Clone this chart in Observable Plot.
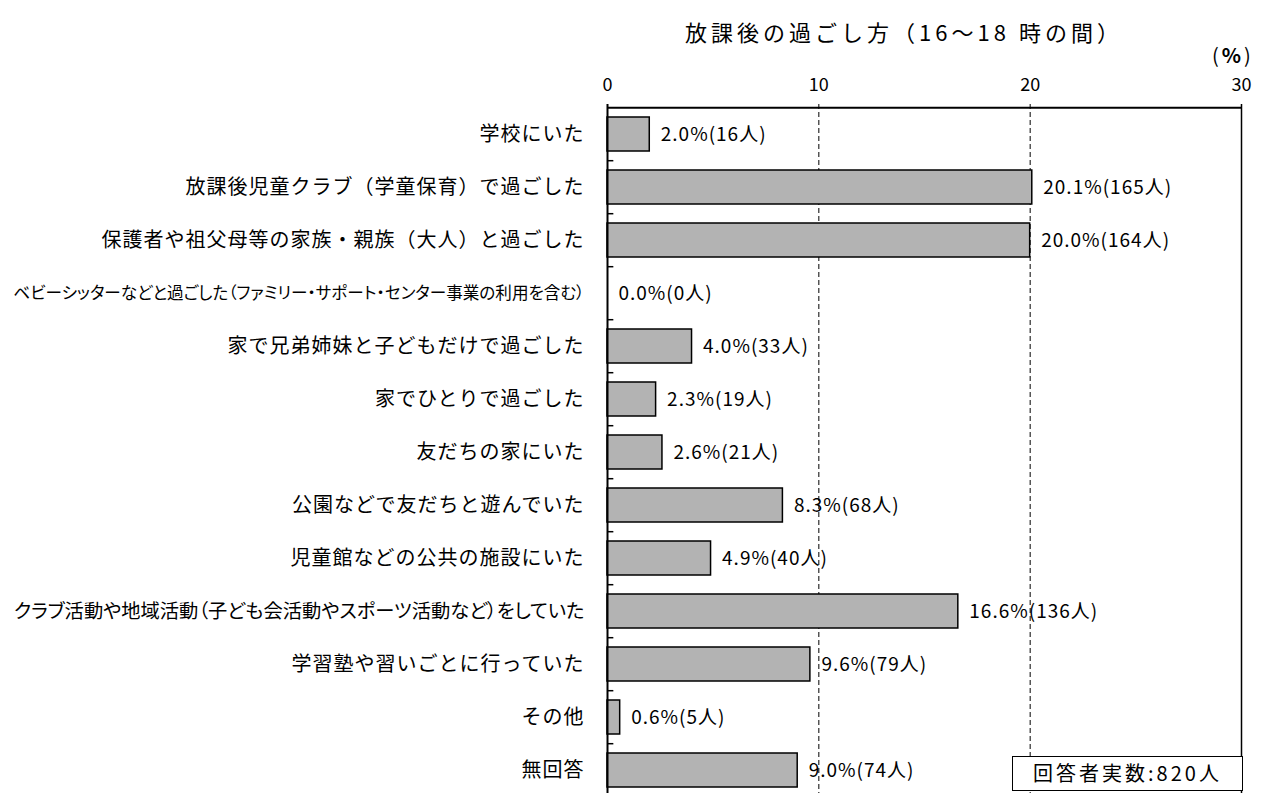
<!DOCTYPE html>
<html>
<head>
<meta charset="utf-8">
<script src="https://cdn.jsdelivr.net/npm/d3@7"></script>
<script src="https://cdn.jsdelivr.net/npm/@observablehq/plot@0.6"></script>
<style>
  body { margin: 0; background: #fff; font-family: "Noto Sans CJK JP", sans-serif; }
  #wrap { position: relative; width: 1269px; height: 793px; overflow: hidden; }
  #header { height: 60px; position: relative; }
  #title { position: absolute; left: 904px; top: 15px; transform: translateX(-50%); font-size: 22px; letter-spacing: 4px; white-space: nowrap; color: #000; }
  #unit { position: absolute; left: 1212px; top: 40px; font-size: 20px; letter-spacing: 3px; white-space: nowrap; color: #000; }
  #unit b { font-weight: 700; }
  #note { position: absolute; left: 1012px; top: 756px; width: 231px; height: 35px; box-sizing: border-box; border: 1.5px solid #000; background: #fff; font-size: 20px; line-height: 32px; text-align: center; letter-spacing: 3px; white-space: nowrap; color: #000; }
</style>
</head>
<body>
<div id="wrap">
  <div id="header"><div id="title">放課後の過ごし方（16〜18 時の間）</div></div>
  <div id="chart"></div>
  <div id="unit">(<b>%</b>)</div>
  <div id="note">回答者実数:820人</div>
</div>
<script>
const categories = [
  "学校にいた",
  "放課後児童クラブ（学童保育）で過ごした",
  "保護者や祖父母等の家族・親族（大人）と過ごした",
  "ベビーシッターなどと過ごした（ファミリー・サポート・センター事業の利用を含む）",
  "家で兄弟姉妹と子どもだけで過ごした",
  "家でひとりで過ごした",
  "友だちの家にいた",
  "公園などで友だちと遊んでいた",
  "児童館などの公共の施設にいた",
  "クラブ活動や地域活動（子ども会活動やスポーツ活動など）をしていた",
  "学習塾や習いごとに行っていた",
  "その他",
  "無回答"
];
const percents = [2.0, 20.1, 20.0, 0.0, 4.0, 2.3, 2.6, 8.3, 4.9, 16.6, 9.6, 0.6, 9.0];
const counts = [16, 165, 164, 0, 33, 19, 21, 68, 40, 136, 79, 5, 74];
const xTicks = [0, 10, 20, 30];

const data = categories.map((c, i) => ({cat: c, value: percents[i], n: counts[i]}));
const valueText = d => `${d.value.toFixed(1)}%(${d.n}人)`;

const W = 1269, H = 733;
const yTop = 43.7, yBottom = 740.5;
const step = (yBottom - yTop) / categories.length;

const plot = Plot.plot({
  width: W,
  height: H,
  marginLeft: 607,
  marginRight: 28,
  marginTop: 44,
  marginBottom: 0,
  style: {fontFamily: "'Noto Sans CJK JP', sans-serif", color: "#000", background: "#fff", overflow: "visible"},
  x: {domain: [0, 30], axis: null},
  y: {domain: categories, range: [yTop, yBottom], paddingInner: 0.35, paddingOuter: 0.175, axis: null},
  marks: [
    Plot.ruleX([10, 20], {stroke: "#000", strokeWidth: 1, strokeDasharray: "5,3"}),
    Plot.barX(data, {x: "value", y: "cat", fill: "#b3b3b3", stroke: "#000", strokeWidth: 1.5}),
    Plot.ruleX([0], {stroke: "#000", strokeWidth: 2}),
    Plot.ruleX([30], {stroke: "#000", strokeWidth: 1.5}),
    Plot.ruleY([categories[0]], {y: d => d, dy: -step / 2, stroke: "#000", strokeWidth: 2}),
    Plot.ruleY(categories.slice(1), {y: d => d, dy: -step / 2, x1: 0, x2: 0.3, stroke: "#000", strokeWidth: 1.5}),
    Plot.axisX({anchor: "top", ticks: xTicks, tickSize: 0, tickPadding: 14, fontSize: 18, tickFormat: d => String(d), label: null}),
    Plot.text(categories, {x: 0, y: d => d, text: d => d, textAnchor: "end", dx: -23, fontSize: 20, fill: "#000"}),
    Plot.text(data, {x: "value", y: "cat", text: valueText, textAnchor: "start", dx: 11, fontSize: 19, fill: "#000"})
  ]
});

document.getElementById("chart").appendChild(plot);

// letter spacing for labels; long category labels use proportional widths and shrink to fit
const maxLen = 573;
const catSet = new Set(categories);
const valSet = new Set(data.map(valueText));
d3.select(plot).selectAll("text").each(function() {
  const t = this.textContent;
  if (catSet.has(t)) {
    this.style.letterSpacing = "1px";
    const len = this.getComputedTextLength();
    if (len > maxLen) {
      this.style.letterSpacing = "0px";
      this.style.fontFeatureSettings = '"palt" 1';
      const base = this.getComputedTextLength();
      const fs = Math.min(20, Math.floor(20 * maxLen / base * 10) / 10);
      this.setAttribute("font-size", fs);
      this.style.fontSize = fs + "px";
    }
  } else if (valSet.has(t)) {
    this.style.letterSpacing = "1px";
  }
});
</script>
</body>
</html>
